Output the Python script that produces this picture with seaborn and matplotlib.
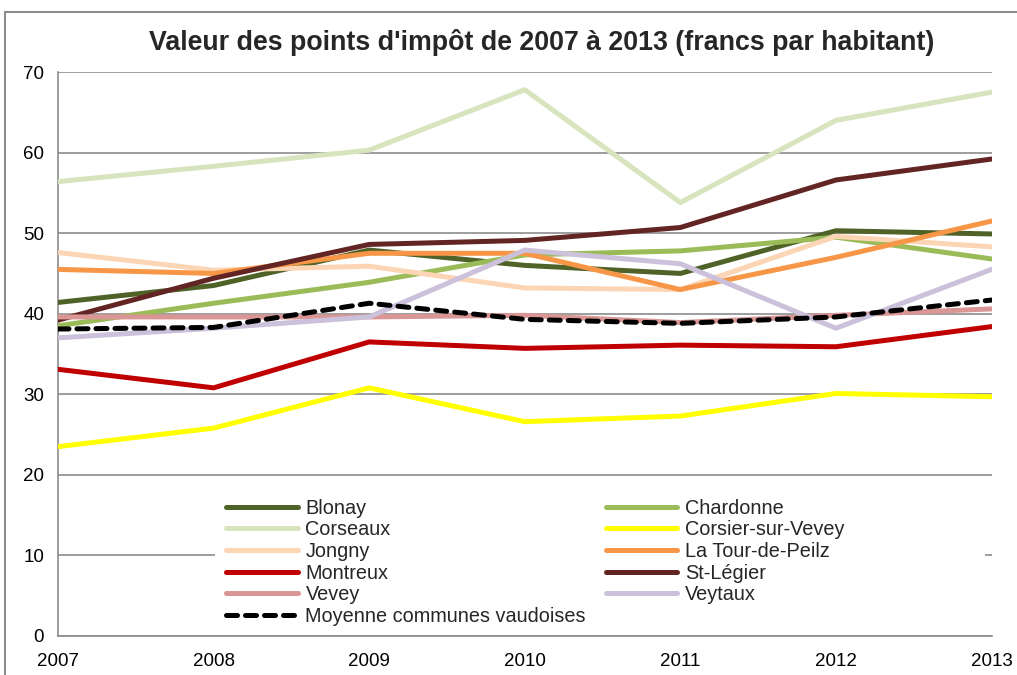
#######################################################################################################################
# libraries section
import matplotlib
matplotlib.use('Agg')
import matplotlib.pyplot as plt
import matplotlib.patches as patches
import seaborn as sns

#######################################################################################################################
# data section
years = [2007, 2008, 2009, 2010, 2011, 2012, 2013]

blonay = [41.4, 43.5, 47.9, 46.0, 45.0, 50.3, 49.9]
chardonne = [38.5, 41.3, 43.9, 47.3, 47.8, 49.5, 46.8]
corseaux = [56.4, 58.3, 60.3, 67.8, 53.8, 64.0, 67.5]
corsier = [23.5, 25.8, 30.8, 26.6, 27.3, 30.1, 29.7]
jongny = [47.6, 45.4, 45.9, 43.2, 43.0, 49.6, 48.3]
tour_de_peilz = [45.5, 45.0, 47.5, 47.5, 43.0, 47.0, 51.5]
montreux = [33.1, 30.8, 36.5, 35.7, 36.1, 35.9, 38.4]
st_legier = [39.2, 44.4, 48.6, 49.1, 50.7, 56.6, 59.2]
vevey = [39.6, 39.6, 39.6, 39.8, 38.9, 39.8, 40.6]
veytaux = [37.0, 38.2, 39.6, 47.9, 46.2, 38.2, 45.5]
moyenne = [38.1, 38.3, 41.3, 39.3, 38.8, 39.6, 41.7]

series_names = ['Blonay', 'Chardonne', 'Corseaux', 'Corsier-sur-Vevey', 'Jongny',
                'La Tour-de-Peilz', 'Montreux', 'St-Légier', 'Vevey', 'Veytaux',
                'Moyenne communes vaudoises']
series_values = [blonay, chardonne, corseaux, corsier, jongny,
                 tour_de_peilz, montreux, st_legier, vevey, veytaux, moyenne]
series_colors = ['#4F6228', '#9BBB59', '#D7E4BD', '#FFFF00', '#FCD5B5',
                 '#F79646', '#C00000', '#632523', '#D99694', '#CCC1DA', '#000000']

title = "Valeur des points d'impôt de 2007 à 2013 (francs par habitant)"

#######################################################################################################################
# plotting section
sns.set_style('white')
plt.rcParams['font.family'] = ['Liberation Sans', 'DejaVu Sans']

fig = plt.figure(figsize=(10.17, 6.75), dpi=100)
ax = fig.add_axes([0.057, 0.0578, 0.918, 0.8355])

# chart area border (cut by the picture on the right and bottom)
fig.patches.append(patches.Rectangle((5 / 1017, -0.05), 1.2, (675 - 12) / 675 + 0.05,
                                     transform=fig.transFigure, fill=False,
                                     edgecolor='#8C8C8C', linewidth=1.5))

handles = {}
for name, vals, col in zip(series_names, series_values, series_colors):
    sns.lineplot(x=years, y=vals, color=col, linewidth=3.6, ax=ax, zorder=3)
    line = ax.lines[-1]
    line.set_solid_capstyle('round')
    if name.startswith('Moyenne'):
        line.set_linestyle((0, (2.2, 1.6)))
        line.set_dash_capstyle('round')
        line.set_zorder(4)
    handles[name] = line

ax.set_xlim(2007, 2013)
ax.set_ylim(0, 70)
ax.set_xticks(years)
ax.set_xticklabels([str(y) for y in years])
ax.set_yticks(range(0, 71, 10))
ax.yaxis.grid(True, color='#8C8C8C', linewidth=1.2, zorder=0)
ax.xaxis.grid(False)
ax.set_axisbelow(True)
for side in ['top', 'right']:
    ax.spines[side].set_visible(False)
for side in ['left', 'bottom']:
    ax.spines[side].set_color('#8C8C8C')
    ax.spines[side].set_linewidth(1.2)
ax.tick_params(axis='both', direction='out', length=6, width=1.2, color='#8C8C8C',
               labelsize=13.5, labelcolor='black', pad=4)
ax.tick_params(axis='x', pad=6)
ax.set_xlabel('')
ax.set_ylabel('')

ax.set_title(title, fontsize=19.3, fontweight='bold', pad=16, x=0.518)

# white legend area hiding the gridlines behind it
ax.add_patch(patches.Rectangle((0.168, 0.014), 0.8245, 0.248, transform=ax.transAxes,
                               facecolor='white', edgecolor='none', zorder=2))

# legend in two columns, read row by row
order = ['Blonay', 'Corseaux', 'Jongny', 'Montreux', 'Vevey', 'Moyenne communes vaudoises',
         'Chardonne', 'Corsier-sur-Vevey', 'La Tour-de-Peilz', 'St-Légier', 'Veytaux']
leg = ax.legend([handles[n] for n in order], order, ncol=2, loc='lower left',
                bbox_to_anchor=(0.163, -0.01), frameon=False, fontsize=14.3,
                handlelength=3.6, handletextpad=0.4, labelspacing=0.13,
                columnspacing=1.0, borderpad=0.3)
leg.set_zorder(5)

plt.savefig('out.png', dpi=100)
